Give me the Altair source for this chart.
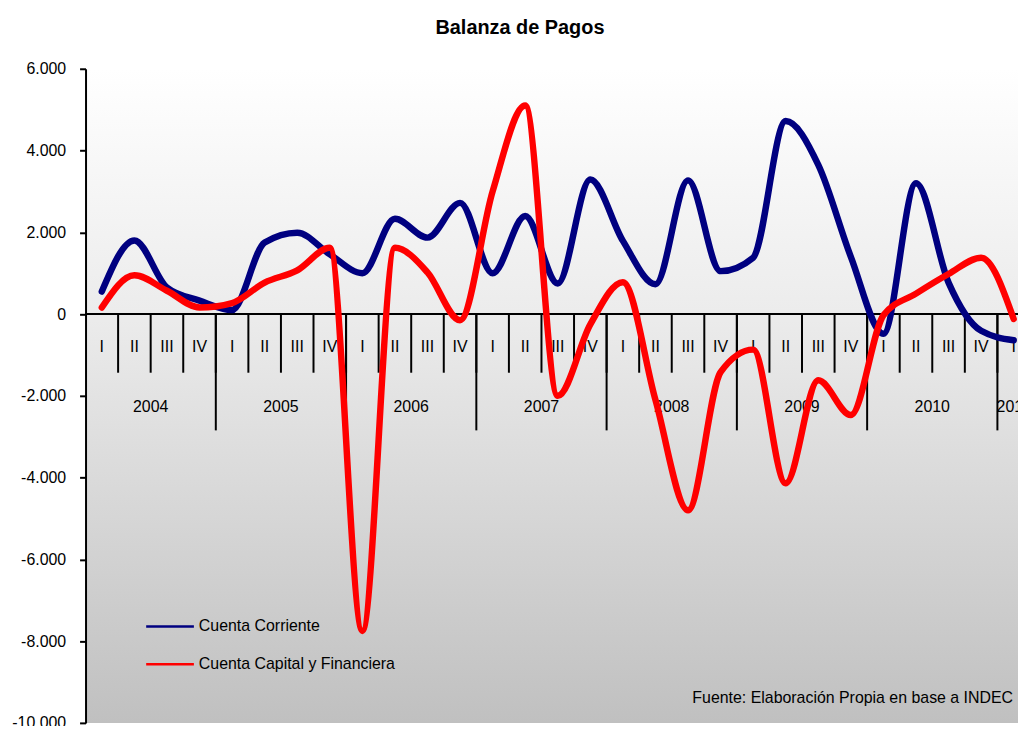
import altair as alt
import pandas as pd

# ---------------- data ----------------
quarters = ["I", "II", "III", "IV"] * 7 + ["I"]
years = ["2004", "2005", "2006", "2007", "2008", "2009", "2010", "2011"]
quarters_per_year = [4, 4, 4, 4, 4, 4, 4, 1]
series = ["Cuenta Corriente", "Cuenta Capital y Financiera"]
colors = ["#000080", "#ff0000"]
cuenta_corriente = [550, 1800, 650, 330, 100, 1750, 1990, 1460, 1000, 2330,
                    1870, 2720, 1000, 2400, 750, 3290, 1790, 730, 3270, 1050,
                    1380, 4720, 3650, 1400, -480, 3200, 770, -410, -640]
cuenta_capital = [160, 950, 570, 160, 270, 770, 1070, 1620, -7750, 1620,
                  1020, -150, 3000, 5100, -2000, -250, 780, -2100, -4800, -1420,
                  -870, -4140, -1620, -2470, -30, 500, 980, 1380, -120]
y_ticks = [-10000, -8000, -6000, -4000, -2000, 0, 2000, 4000, 6000]
source_text = "Fuente: Elaboración Propia en base a INDEC"
title_text = "Balanza de Pagos"

# ---------------- layout constants ----------------
W, H = 938, 658
BAND = 32.76
XMAX = W / BAND
YMIN, YMAX = -10000, 6000
UNITS_PER_PX = (YMAX - YMIN) / H
FONT = "Liberation Sans"

rows = []
for name, vals in zip(series, [cuenta_corriente, cuenta_capital]):
    for i, v in enumerate(vals):
        rows.append({"pos": i + 0.5, "value": v, "series": name})
df = pd.DataFrame(rows)

q_df = pd.DataFrame({"pos": [i + 0.5 for i in range(len(quarters))], "label": quarters})
q_sep = pd.DataFrame({"b": list(range(1, len(quarters)))})
starts, s = [], 0
for n in quarters_per_year:
    starts.append(s)
    s += n
y_df = pd.DataFrame({"pos": [st + n / 2 for st, n in zip(starts, quarters_per_year)], "label": years})
y_sep = pd.DataFrame({"b": starts[1:]})

x_scale = alt.Scale(domain=[0, XMAX], nice=False, zero=False)
y_scale = alt.Scale(domain=[YMIN, YMAX], nice=False, zero=False)

y_axis = alt.Axis(
    values=y_ticks, title=None, grid=False, zindex=1,
    domainColor="black", domainWidth=2,
    tickColor="black", tickWidth=2, tickSize=6,
    labelFont=FONT, labelFontSize=16, labelColor="black", labelPadding=14,
    labelExpr="(datum.value < 0 ? '-' : '') + replace(format(abs(datum.value), ',.0f'), ',', '.')")

one = pd.DataFrame({"a": [0]})

bg = alt.Chart(one).mark_rect(
    fill=alt.LinearGradient(
        gradient="linear",
        stops=[alt.GradientStop(color="#ffffff", offset=0),
               alt.GradientStop(color="#ececec", offset=0.37),
               alt.GradientStop(color="#c0c0c0", offset=1)],
        x1=0, x2=0, y1=0, y2=1)
).encode(x=alt.value(0), x2=alt.value(W), y=alt.value(0), y2=alt.value(H))

zero_line = alt.Chart(one).mark_rule(color="black", strokeWidth=2).encode(
    y=alt.YDatum(0, scale=y_scale, axis=y_axis))

q_len = 59 * UNITS_PER_PX
y_len = 117 * UNITS_PER_PX

q_rules = alt.Chart(q_sep).mark_rule(color="black", strokeWidth=2).encode(
    x=alt.X("b:Q", scale=x_scale, axis=None),
    y=alt.YDatum(0, scale=y_scale, axis=y_axis),
    y2=alt.Y2Datum(-q_len))

y_rules = alt.Chart(y_sep).mark_rule(color="black", strokeWidth=2).encode(
    x=alt.X("b:Q", scale=x_scale, axis=None),
    y=alt.YDatum(0, scale=y_scale, axis=y_axis),
    y2=alt.Y2Datum(-y_len))

q_labels = alt.Chart(q_df).mark_text(
    font=FONT, fontSize=16, color="black", align="center", baseline="middle", dy=33
).encode(x=alt.X("pos:Q", scale=x_scale, axis=None),
         y=alt.YDatum(0, scale=y_scale, axis=y_axis),
         text="label:N")

y_labels = alt.Chart(y_df).mark_text(
    font=FONT, fontSize=16, color="black", align="center", baseline="middle", dy=94
).encode(x=alt.X("pos:Q", scale=x_scale, axis=None),
         y=alt.YDatum(0, scale=y_scale, axis=y_axis),
         text="label:N")

lines = alt.Chart(df).mark_line(interpolate="monotone", strokeWidth=6.5, strokeCap="round").encode(
    x=alt.X("pos:Q", scale=x_scale, axis=None),
    y=alt.Y("value:Q", scale=y_scale, axis=y_axis),
    color=alt.Color("series:N", scale=alt.Scale(domain=series, range=colors), legend=None),
    detail="series:N")

legend_layers = []
for k, (name, col) in enumerate(zip(series, colors)):
    ly = 561 + 38 * k
    leg_df = pd.DataFrame({"series": [name]})
    legend_layers.append(alt.Chart(leg_df).mark_rule(color=col, strokeWidth=2.5).encode(
        x=alt.value(61), x2=alt.value(109), y=alt.value(ly)))
    legend_layers.append(alt.Chart(leg_df).mark_text(
        font=FONT, fontSize=16, color="black", align="left", baseline="middle").encode(
        x=alt.value(114), y=alt.value(ly), text="series:N"))

src = alt.Chart(pd.DataFrame({"t": [source_text]})).mark_text(
    font=FONT, fontSize=16, color="black", align="right", baseline="middle").encode(
    x=alt.value(933), y=alt.value(633), text="t:N")

chart = alt.layer(
    bg, zero_line, q_rules, y_rules, q_labels, y_labels, lines, *legend_layers, src
).properties(
    width=W, height=H,
    title=alt.TitleParams(text=title_text, font=FONT, fontSize=20, fontWeight="bold",
                          color="black", anchor="middle", dx=-32, offset=23),
    autosize=alt.AutoSizeParams(type="none"),
    padding={"left": 78, "top": 59, "right": 0, "bottom": 1},
).configure_view(stroke=None)

chart.save("out.html", embed_options={"renderer": "svg", "actions": False})
